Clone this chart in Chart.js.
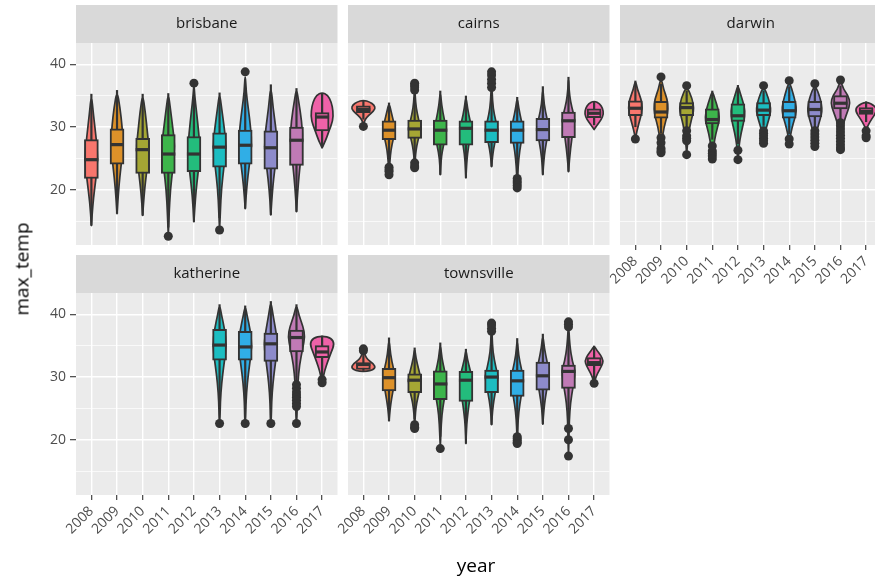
<!DOCTYPE html>
<html><head><meta charset="utf-8">
<script src="https://cdn.jsdelivr.net/npm/chart.js@4/dist/chart.umd.min.js"></script>
<style>
html,body{margin:0;padding:0;background:#fff;overflow:hidden;}
#wrap{position:relative;width:875px;height:577px;overflow:hidden;font-family:"Open Sans",sans-serif;background:#fff;}
canvas{position:absolute;}
.axt{position:absolute;color:#000;font-size:19px;white-space:nowrap;line-height:1;}
</style></head><body>
<div id="wrap">
<canvas id="c_brisbane"></canvas>
<canvas id="c_cairns"></canvas>
<canvas id="c_darwin"></canvas>
<canvas id="c_katherine"></canvas>
<canvas id="c_townsville"></canvas>
<div class="axt" id="xt" style="left:476px;top:565px;transform:translate(-50%,-50%);">year</div>
<div class="axt" id="yt" style="left:22px;top:269px;transform:translate(-50%,-50%) rotate(-90deg);">max_temp</div>
</div>
<script>
// ---------------- data ----------------
const years = ['2008','2009','2010','2011','2012','2013','2014','2015','2016','2017'];
const yearColors = ['#F8766D','#DD9129','#A5A634','#3DB54B','#23BC7C','#1CBDC1','#30AEE6','#8D8BCB','#C07AB5','#EF62A8'];
const yTickValues = [15,20,25,30,35,40];

// box stats per year: [lower whisker, q1, median, q3, upper whisker]
const brisbaneStats = [[14.3,21.8,24.8,28.0,35.3],[16.2,24.1,27.2,29.7,35.9],[15.9,22.6,26.4,28.2,35.3],[14.0,22.6,25.7,28.8,35.4],[14.9,22.9,25.7,28.5,35.0],[15.5,23.6,26.8,29.1,35.5],[17.0,24.1,27.1,29.5,36.3],[16.0,23.3,26.7,29.4,36.8],[16.5,23.9,27.9,30.0,36.2],[26.8,29.4,31.6,32.3,35.4]];
const brisbaneOutliers = [[],[],[],[12.6],[37.0],[13.6],[38.8],[],[],[]];
const brisbaneViolins = [
 [[14.3,0],[18,0.06],[21.5,0.17],[25,0.26],[28.5,0.18],[32,0.08],[35.3,0]],
 [[16.2,0],[20,0.06],[24,0.16],[27,0.25],[30,0.2],[33,0.12],[35.9,0]],
 [[15.9,0],[19.5,0.06],[23,0.16],[26.5,0.25],[29,0.19],[32.5,0.1],[35.3,0]],
 [[12.6,0],[16,0.03],[20,0.08],[23.5,0.18],[27,0.26],[30,0.17],[33,0.08],[35.4,0]],
 [[14.9,0],[19,0.06],[23,0.17],[26,0.25],[29,0.19],[32.5,0.1],[35,0.03],[37,0]],
 [[13.6,0],[16.5,0.03],[20,0.07],[24,0.18],[27,0.26],[30,0.18],[33,0.08],[35.5,0]],
 [[17,0],[20.5,0.06],[24,0.16],[27,0.26],[30,0.21],[33,0.12],[35.5,0.04],[38.8,0]],
 [[16,0],[20,0.06],[23.5,0.16],[27,0.26],[30,0.19],[33,0.09],[36.8,0]],
 [[16.5,0],[20,0.05],[24,0.14],[28,0.25],[31,0.2],[34,0.09],[36.2,0]],
 [[26.7,0],[27.9,0.14],[29.3,0.26],[31,0.42],[32.5,0.43],[34,0.36],[35.1,0.22],[35.5,0]]
];

const cairnsStats = [[31.2,32.3,32.8,33.4,34.2],[24.0,28.0,29.5,31.0,33.9],[25.1,28.2,29.7,31.1,34.7],[22.4,27.1,29.5,31.1,35.8],[21.9,27.1,29.8,31.0,35.0],[23.7,27.5,29.5,31.0,35.3],[22.4,27.4,29.5,31.0,34.8],[22.4,27.8,29.6,31.4,36.5],[22.9,28.3,31.0,32.4,38.0],[30.3,31.5,32.2,32.9,34.0]];
const cairnsOutliers = [[30.1],[23.6,23.2,22.9,22.4],[37.0,36.7,36.4,35.9,24.3,23.8,23.5],[],[],[38.8,38.3,37.6,37.0,36.3],[21.8,21.4,21.1,20.7,20.3],[],[],[]];
const cairnsViolins = [
 [[30.1,0],[30.9,0.03],[31.5,0.12],[32.2,0.3],[32.9,0.47],[33.5,0.42],[34.0,0.25],[34.3,0]],
 [[22.4,0],[24.5,0.03],[26.5,0.08],[28,0.16],[29.5,0.25],[31,0.17],[32.5,0.08],[33.9,0]],
 [[23.5,0],[25.5,0.03],[27,0.08],[28.2,0.15],[29.7,0.24],[31.1,0.16],[33,0.06],[35,0.02],[37,0]],
 [[22.4,0],[25,0.03],[27,0.12],[29.5,0.25],[31.1,0.16],[33.5,0.05],[35.8,0]],
 [[21.9,0],[24.5,0.03],[27,0.1],[29.8,0.24],[31,0.16],[33,0.06],[35,0]],
 [[23.7,0],[25.5,0.04],[27.5,0.12],[29.5,0.25],[31,0.16],[33,0.06],[35.5,0.02],[38.8,0]],
 [[20.3,0],[22.5,0.02],[25,0.06],[27.4,0.14],[29.5,0.25],[31,0.16],[33,0.06],[34.8,0]],
 [[22.4,0],[25,0.04],[27.8,0.14],[29.6,0.25],[31.4,0.16],[33.5,0.05],[36.5,0]],
 [[22.9,0],[25,0.04],[28.3,0.13],[31,0.25],[32.4,0.18],[34,0.08],[36,0.02],[38,0]],
 [[29.6,0],[30.3,0.12],[31.2,0.28],[32.1,0.37],[33,0.33],[33.7,0.22],[34.2,0]]
];

const darwinStats = [[30.0,31.8,33.0,34.2,37.4],[29.0,31.4,32.4,34.1,36.9],[29.9,31.8,33.1,33.9,35.8],[28.0,30.5,31.2,32.9,35.8],[27.3,30.9,31.8,33.7,36.7],[30.2,31.8,32.7,33.9,35.8],[28.9,31.4,32.6,34.1,36.5],[29.9,31.6,32.8,34.1,36.1],[30.9,32.9,33.8,35.0,36.6],[30.8,32.0,32.5,33.1,34.1]];
const darwinOutliers = [[28.1],[38.0,28.3,27.5,26.6,26.2,25.9],[36.6,29.4,28.6,28.2,27.8,25.6],[27.0,26.2,25.8,25.4,24.9],[26.3,24.8],[36.6,29.4,29.0,28.6,28.2,27.8,27.4],[37.4,28.1,27.3],[36.9,29.4,28.9,28.4,27.9,27.4,26.9],[37.5,30.7,30.2,29.7,29.2,28.7,28.2,27.7,27.2,26.7,26.4],[29.4,28.6,28.3]];
const darwinViolins = [
 [[28.1,0],[29.5,0.06],[31.5,0.2],[33,0.28],[34.5,0.22],[36,0.08],[37.5,0]],
 [[25.9,0],[28,0.04],[30,0.12],[31.5,0.22],[32.8,0.28],[34.5,0.24],[36,0.1],[38,0]],
 [[25.6,0],[28,0.04],[30.5,0.14],[32,0.24],[33,0.28],[34.5,0.22],[36.6,0]],
 [[24.9,0],[27,0.05],[29,0.14],[30.5,0.24],[31.5,0.28],[33,0.22],[34.5,0.1],[35.8,0]],
 [[24.8,0],[27,0.04],[29,0.12],[31,0.24],[32.5,0.28],[34,0.2],[35.5,0.08],[36.7,0]],
 [[27.4,0],[29,0.05],[30.5,0.15],[32,0.26],[33,0.28],[34.5,0.2],[36.6,0]],
 [[27.3,0],[29,0.06],[30.5,0.15],[32,0.26],[33.2,0.28],[35,0.18],[37.4,0]],
 [[26.9,0],[29,0.06],[30.5,0.15],[32,0.26],[33,0.28],[34.5,0.22],[36.9,0]],
 [[26.4,0],[29,0.05],[31,0.14],[32.5,0.28],[33.8,0.38],[35,0.3],[36,0.12],[37.5,0]],
 [[28.3,0],[29.5,0.02],[30.2,0.06],[31.3,0.22],[32.5,0.42],[33.3,0.36],[34.1,0]]
];

const katherineStats = [null,null,null,null,null,[25.5,32.7,35.1,37.6,41.6],[25.8,32.7,34.8,37.3,41.4],[25.9,32.5,35.3,37.0,42.1],[29.4,34.0,36.3,37.5,41.6],[30.1,33.1,34.0,35.0,36.6]];
const katherineOutliers = [[],[],[],[],[],[22.6],[22.6],[22.6],[28.8,28.2,27.6,27.2,26.8,26.3,25.8,25.3,22.6],[29.6,29.1]];
const katherineViolins = [null,null,null,null,null,
 [[22.6,0],[23.5,0.02],[26,0.03],[29,0.08],[32,0.17],[35,0.27],[37.8,0.19],[39.8,0.08],[41.6,0]],
 [[22.6,0],[23.5,0.02],[26,0.03],[29,0.08],[32,0.17],[35,0.27],[37.6,0.19],[39.7,0.08],[41.4,0]],
 [[22.6,0],[23.5,0.02],[26,0.03],[29,0.08],[32,0.17],[35.2,0.27],[37.5,0.19],[40,0.08],[42.1,0]],
 [[22.6,0],[23.5,0.02],[26,0.03],[29,0.05],[32,0.12],[34.5,0.24],[36.5,0.33],[38,0.26],[39.8,0.1],[41.6,0]],
 [[29.1,0],[29.9,0.04],[31,0.1],[32.5,0.22],[34,0.36],[35.3,0.48],[36.2,0.36],[36.6,0]]
];

const townsvilleStats = [[31.0,31.2,32.0,32.3,33.5],[23.0,27.8,29.9,31.4,36.3],[23.3,27.5,29.5,30.5,34.7],[20.5,26.4,28.9,31.0,35.5],[19.4,26.1,29.5,30.9,34.5],[22.4,27.5,30.0,31.1,36.6],[21.0,26.9,29.4,31.1,36.2],[22.5,27.9,30.2,32.4,36.9],[22.6,28.2,30.9,31.9,37.1],[29.6,31.8,32.3,33.1,35.0]];
const townsvilleOutliers = [[34.2,34.5],[],[22.4,22.0,21.8],[18.6],[],[38.6,38.3,37.8,37.3],[20.5,20.2,19.9,19.6,19.4],[],[38.8,38.4,38.0,21.8,20.0,17.4],[29.0]];
const townsvilleViolins = [
 [[30.9,0],[31.0,0.3],[31.5,0.47],[32.1,0.4],[32.7,0.18],[33.5,0.06],[34.5,0]],
 [[23,0],[25,0.04],[27.8,0.15],[29.9,0.26],[31.4,0.17],[33.5,0.06],[36.3,0]],
 [[21.8,0],[24,0.02],[26,0.08],[27.5,0.17],[29.5,0.26],[31,0.17],[33,0.05],[34.7,0]],
 [[18.6,0],[21,0.02],[24,0.06],[26.4,0.15],[29,0.26],[31,0.17],[33,0.06],[35.5,0]],
 [[19.4,0],[22,0.02],[24.5,0.08],[26.5,0.15],[29.5,0.26],[31,0.17],[33,0.05],[34.5,0]],
 [[22.4,0],[25,0.04],[27.5,0.14],[30,0.26],[31.5,0.17],[34,0.05],[36.6,0.02],[38.6,0]],
 [[19.4,0],[22,0.02],[24.5,0.06],[26.9,0.15],[29.4,0.26],[31.2,0.17],[33.5,0.05],[36.2,0]],
 [[22.5,0],[25,0.04],[27.9,0.14],[30.2,0.26],[32.4,0.17],[34.5,0.06],[36.9,0]],
 [[17.4,0],[20,0.02],[23,0.03],[26,0.08],[28.2,0.17],[30.9,0.27],[32.5,0.15],[35,0.05],[38.8,0]],
 [[29.0,0],[29.6,0.04],[30.5,0.12],[31.8,0.3],[32.6,0.36],[33.5,0.25],[34.3,0.1],[35.0,0]]
];

// ---------------- drawing ----------------
const FONT = "'Open Sans', sans-serif";
Chart.defaults.font.family = FONT;
const PLOT_W = 264, PLOT_H = 202, STRIP_H = 38;
const Y_MIN = 11.2, Y_MAX = 43.4;
const DARK = '#333333';
const BOX_PX = 14;

function smoothClosed(ctx, pts) {
  ctx.beginPath();
  ctx.moveTo(pts[0][0], pts[0][1]);
  for (let k = 1; k < pts.length - 1; k++) {
    const mx = (pts[k][0] + pts[k+1][0]) / 2, my = (pts[k][1] + pts[k+1][1]) / 2;
    ctx.quadraticCurveTo(pts[k][0], pts[k][1], mx, my);
  }
  ctx.lineTo(pts[pts.length-1][0], pts[pts.length-1][1]);
  ctx.closePath();
}

function makeFacet(id, name, stats, outliers, violins, plotLeft, stripTop, showY, showX) {
  const yW = showY ? 76 : 24;
  const xH = showX ? 52 : 14;
  const w = yW + PLOT_W + 2, h = STRIP_H + PLOT_H + xH;
  const canvas = document.getElementById(id);
  canvas.width = w; canvas.height = h;
  canvas.style.width = w + 'px'; canvas.style.height = h + 'px';
  canvas.style.left = (plotLeft - yW) + 'px'; canvas.style.top = stripTop + 'px';

  const boxData = [];
  const outData = [];
  stats.forEach((s, i) => {
    if (s) boxData.push({x: i, y: [s[1], s[3]]});
    (outliers[i] || []).forEach(v => outData.push({x: i, y: v}));
  });

  const plugin = {
    id: 'facet_' + name,
    beforeDraw(chart) {
      const {ctx, chartArea: ca} = chart;
      ctx.save();
      ctx.fillStyle = '#D9D9D9';
      ctx.fillRect(ca.left, 0, ca.right - ca.left, ca.top);
      ctx.fillStyle = '#EBEBEB';
      ctx.fillRect(ca.left, ca.top, ca.right - ca.left, ca.bottom - ca.top);
      ctx.restore();
    },
    beforeDatasetsDraw(chart) {
      const {ctx} = chart;
      const xs = chart.scales.x, ys = chart.scales.y;
      ctx.save();
      violins.forEach((prof, i) => {
        if (!prof) return;
        const cx = xs.getPixelForValue(i);
        const unit = xs.getPixelForValue(i + 1) - cx;
        const right = prof.map(p => [cx + p[1] * unit, ys.getPixelForValue(p[0])]);
        const left = prof.slice().reverse().map(p => [cx - p[1] * unit, ys.getPixelForValue(p[0])]);
        const pts = right.concat(left.slice(1));
        smoothClosed(ctx, pts);
        ctx.fillStyle = yearColors[i];
        ctx.fill();
        ctx.lineWidth = 1.7;
        ctx.strokeStyle = DARK;
        ctx.lineJoin = 'round';
        ctx.stroke();
      });
      stats.forEach((s, i) => {
        if (!s) return;
        const cx = xs.getPixelForValue(i);
        ctx.beginPath();
        ctx.moveTo(cx, ys.getPixelForValue(s[0]));
        ctx.lineTo(cx, ys.getPixelForValue(s[4]));
        ctx.lineWidth = 2.2;
        ctx.strokeStyle = DARK;
        ctx.stroke();
      });
      ctx.restore();
    },
    afterDatasetsDraw(chart) {
      const {ctx} = chart;
      const xs = chart.scales.x, ys = chart.scales.y;
      ctx.save();
      stats.forEach((s, i) => {
        if (!s) return;
        const cx = xs.getPixelForValue(i);
        const y = ys.getPixelForValue(s[2]);
        ctx.beginPath();
        ctx.moveTo(cx - BOX_PX / 2, y);
        ctx.lineTo(cx + BOX_PX / 2, y);
        ctx.lineWidth = 3.2;
        ctx.strokeStyle = DARK;
        ctx.stroke();
      });
      ctx.restore();
    }
  };

  return new Chart(canvas, {
    type: 'bar',
    data: {
      datasets: [
        {
          type: 'bar', data: boxData, grouped: false,
          barThickness: BOX_PX,
          backgroundColor: ctx => yearColors[ctx.raw ? ctx.raw.x : 0],
          borderColor: DARK, borderWidth: 2, borderSkipped: false, order: 2
        },
        {
          type: 'scatter', data: outData,
          pointRadius: 4.5, pointBackgroundColor: DARK, pointBorderWidth: 0,
          pointBorderColor: DARK, order: 1
        }
      ]
    },
    options: {
      responsive: false, animation: false, devicePixelRatio: 1, events: [],
      layout: {padding: {left: 0, right: 2, top: 0, bottom: 0}},
      plugins: {
        legend: {display: false}, tooltip: {enabled: false},
        title: {
          display: true, text: name, fullSize: false, position: 'top',
          color: '#1A1A1A', font: {size: 15, weight: 'normal', lineHeight: 1.2},
          padding: {top: 10, bottom: 10}
        }
      },
      scales: {
        x: {
          type: 'linear', min: -0.6, max: 9.6, offset: false,
          afterBuildTicks: s => { s.ticks = years.map((y, i) => ({value: i})); },
          afterFit: s => { s.height = xH; },
          ticks: {
            display: showX, autoSkip: false, minRotation: 45, maxRotation: 45,
            callback: v => years[v], color: '#4D4D4D', font: {size: 14}, padding: 3
          },
          grid: {offset: false, color: '#FFFFFF', lineWidth: 1.4, drawTicks: showX, tickLength: 5, tickColor: DARK, tickWidth: 1.1},
          border: {display: false}
        },
        y: {
          type: 'linear', min: Y_MIN, max: Y_MAX, offset: false,
          afterBuildTicks: s => { s.ticks = yTickValues.map(v => ({value: v})); },
          afterFit: s => { s.width = yW; },
          ticks: {
            display: showY, autoSkip: false,
            callback: v => (v % 10 === 0 ? String(v) : ''), color: '#4D4D4D', font: {size: 14}, padding: 4
          },
          grid: {
            offset: false,
            color: '#FFFFFF',
            lineWidth: c => (c.tick && c.tick.value % 10 === 0 ? 1.4 : 0.7),
            drawTicks: showY, tickLength: 6,
            tickColor: c => (c.tick && c.tick.value % 10 === 0 ? DARK : 'rgba(0,0,0,0)'),
            tickWidth: 1.1
          },
          border: {display: false}
        }
      }
    },
    plugins: [plugin]
  });
}

makeFacet('c_brisbane', 'brisbane', brisbaneStats, brisbaneOutliers, brisbaneViolins, 76, 5, true, false);
makeFacet('c_cairns', 'cairns', cairnsStats, cairnsOutliers, cairnsViolins, 348, 5, false, false);
makeFacet('c_darwin', 'darwin', darwinStats, darwinOutliers, darwinViolins, 620, 5, false, true);
makeFacet('c_katherine', 'katherine', katherineStats, katherineOutliers, katherineViolins, 76, 255, true, true);
makeFacet('c_townsville', 'townsville', townsvilleStats, townsvilleOutliers, townsvilleViolins, 348, 255, false, true);
</script>
</body></html>
